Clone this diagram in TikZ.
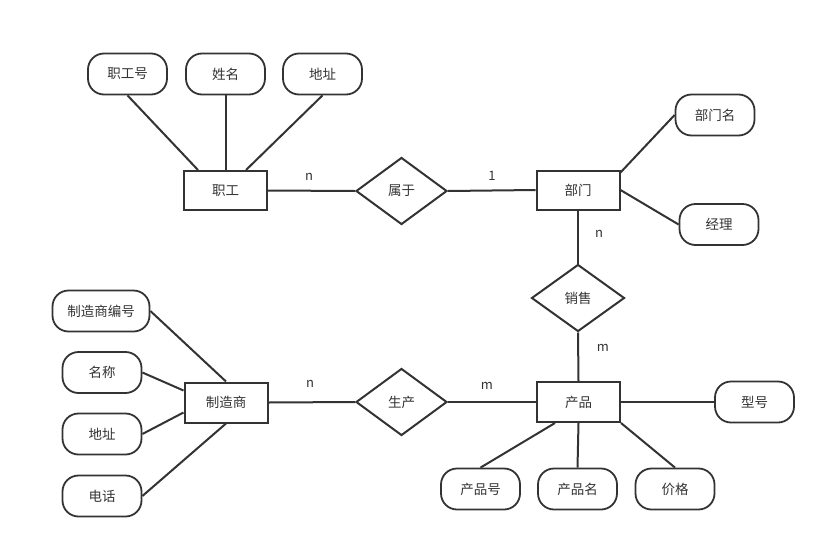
\documentclass[tikz,border=0pt]{standalone}
\usepackage{fontspec}
\setmainfont{Noto Sans CJK SC}
\usetikzlibrary{shapes.geometric}
\definecolor{ink}{HTML}{333333}
\tikzset{
  ent/.style={draw=ink, line width=2pt, rectangle, minimum width=83pt, minimum height=39pt, inner sep=0pt, text=ink, font=\fontsize{13.5pt}{15pt}\selectfont},
  rel/.style={draw=ink, line width=2pt, diamond, minimum width=91pt, minimum height=67pt, inner sep=0pt, text=ink, font=\fontsize{13.5pt}{15pt}\selectfont},
  attr/.style={draw=ink, line width=1.8pt, rectangle, rounded corners=16pt, minimum width=79pt, minimum height=41pt, inner sep=0pt, text=ink, font=\fontsize{13.5pt}{15pt}\selectfont},
  conn/.style={draw=ink, line width=2pt},
  card/.style={text=ink, inner sep=0pt, font=\fontsize{13pt}{15pt}\selectfont}
}
\begin{document}
\begin{tikzpicture}[x=1pt,y=-1pt]
\useasboundingbox (0,0) rectangle (830,552);
% entities
\node[ent] (zg) at (225.5,190.5) {职工};
\node[ent] (bm) at (578,190) {部门};
\node[ent, minimum height=40pt] (zz) at (226,402.5) {制造商};
\node[ent, minimum height=40pt] (cp) at (578.5,402) {产品};
% relations
\node[rel] (sy) at (401.5,191) {属于};
\node[rel, minimum width=93pt] (xs) at (578,298) {销售};
\node[rel] (sc) at (401.5,402) {生产};
% attributes
\node[attr] (zgh) at (127.5,74) {职工号};
\node[attr] (xm) at (225.5,74) {姓名};
\node[attr] (dz) at (322.5,74) {地址};
\node[attr] (bmm) at (715,115) {部门名};
\node[attr] (jl) at (719,224.5) {经理};
\node[attr, minimum width=97pt] (zzbh) at (101,311) {制造商编号};
\node[attr] (mc) at (102,372.5) {名称};
\node[attr] (dz2) at (102,434) {地址};
\node[attr] (dh) at (102,496) {电话};
\node[attr] (xh) at (754.5,402) {型号};
\node[attr] (cph) at (480.5,489) {产品号};
\node[attr] (cpm) at (577.5,489) {产品名};
\node[attr] (jg) at (675,489) {价格};
% relation connectors
\draw[conn] (zg.east) -- (sy.west);
\draw[conn] (sy.east) -- (bm.west);
\draw[conn] (bm.south) -- (xs.north);
\draw[conn] (xs.south) -- (cp.north);
\draw[conn] (zz.east) -- (sc.west);
\draw[conn] (sc.east) -- (cp.west);
% attribute connectors
\draw[conn] (zgh.south) -- ([xshift=15pt]zg.north west);
\draw[conn] (xm.south) -- (zg.north);
\draw[conn] (dz.south) -- ([xshift=-22pt]zg.north east);
\draw[conn] (bmm.west) -- ([yshift=-3pt]bm.north east);
\draw[conn] (jl.west) -- (bm.east);
\draw[conn] (zzbh.east) -- (zz.north);
\draw[conn] (mc.east) -- ([yshift=12pt]zz.west);
\draw[conn] (dz2.east) -- ([yshift=-10pt]zz.west);
\draw[conn] (dh.east) -- (zz.south);
\draw[conn] (cp.east) -- (xh.west);
\draw[conn] (cph.north) -- ([xshift=19pt]cp.south west);
\draw[conn] (cpm.north) -- (cp.south);
\draw[conn] (jg.north) -- (cp.south east);
% cardinalities
\node[card] (c1) at (309,177) {n};
\node[card] (c2) at (492,176) {1};
\node[card] (c3) at (599,234) {n};
\node[card] (c4) at (603,348) {m};
\node[card] (c5) at (310,384) {n};
\node[card] (c6) at (487,386) {m};
\end{tikzpicture}
\end{document}
